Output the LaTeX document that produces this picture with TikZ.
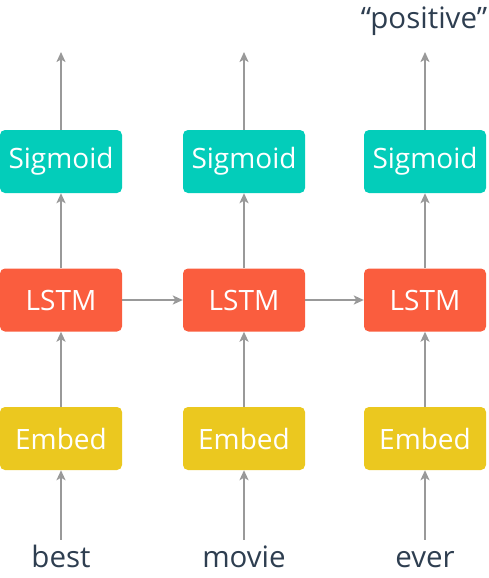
\documentclass[tikz,border=0pt]{standalone}
\usepackage{fontspec}
\setmainfont{Open Sans}
\usetikzlibrary{arrows.meta}
\definecolor{sigcol}{HTML}{03CDBA}
\definecolor{lstmcol}{HTML}{FA5D3E}
\definecolor{embcol}{HTML}{EBC81F}
\definecolor{wordcol}{HTML}{2E3E50}
\definecolor{linecol}{HTML}{999999}

\begin{document}
\begin{tikzpicture}[x=1pt,y=-1pt,
  box/.style={rounded corners=5pt, minimum width=122pt, minimum height=63pt, inner sep=0pt, text=white, font=\fontsize{28}{31}\selectfont},
  word/.style={text=wordcol, font=\fontsize{29.5}{33}\selectfont, text height=21pt, text depth=7pt, inner xsep=0pt, inner ysep=6pt},
  flow/.style={draw=linecol, line width=2pt, -{Stealth[length=10pt,width=9pt,inset=2.5pt]}}]
\useasboundingbox (0,0) rectangle (489,578);
\foreach \i/\x/\w in {1/61/best,2/244/movie,3/425/ever} {
  \node[box, fill=sigcol] (sig\i) at (\x,161.5) {Sigmoid};
  \node[box, fill=lstmcol] (lstm\i) at (\x,300) {LSTM};
  \node[box, fill=embcol] (emb\i) at (\x,438.5) {Embed};
  \node[word, anchor=base] (w\i) at (\x,567) {\w};
  \coordinate (out\i) at (\x,52);
}
\node[word, anchor=base] (label) at (424,29) {“positive”};
\foreach \i in {1,2,3} {
  \draw[flow] (w\i) -- (emb\i);
  \draw[flow] (emb\i) -- (lstm\i);
  \draw[flow] (lstm\i) -- (sig\i);
  \draw[flow] (sig\i) -- (out\i);
}
\draw[flow] (lstm1) -- (lstm2);
\draw[flow] (lstm2) -- (lstm3);
\end{tikzpicture}
\end{document}
